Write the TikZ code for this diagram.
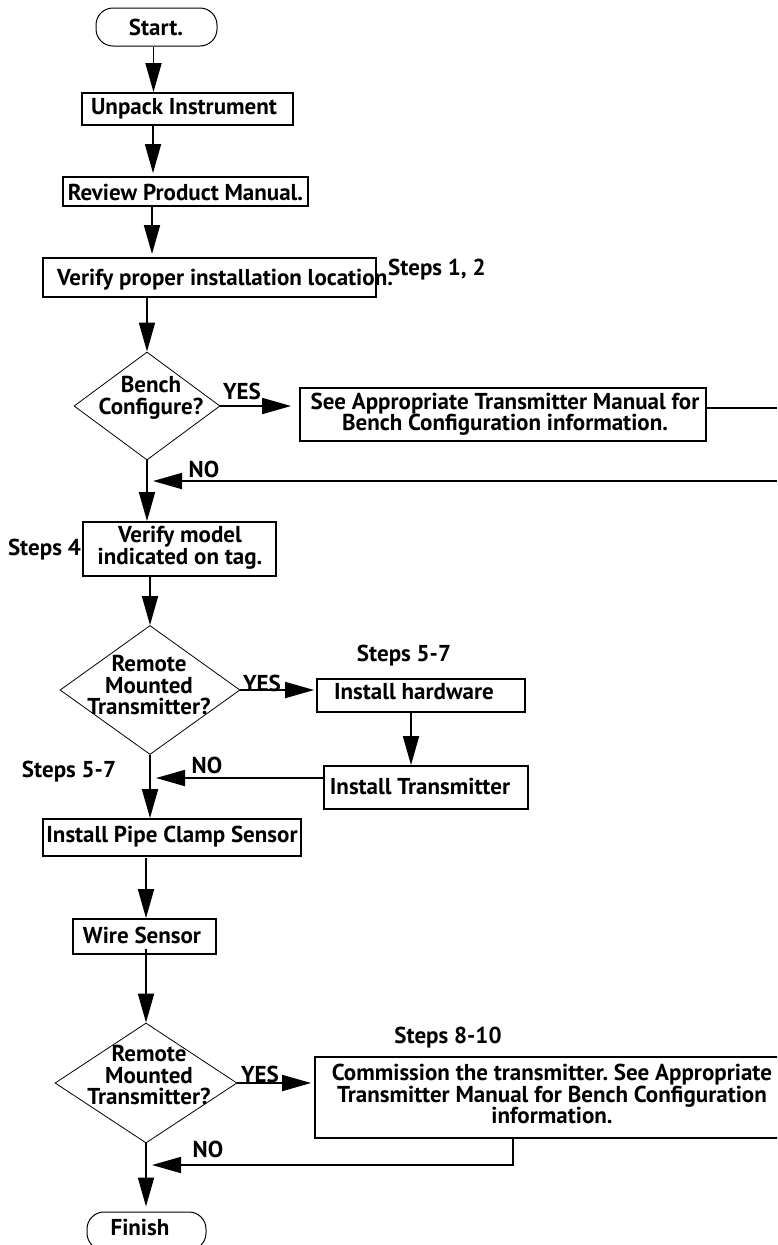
\documentclass[tikz,border=0pt]{standalone}
\usepackage{fontspec}
\setmainfont{PT Sans}
\usetikzlibrary{arrows.meta,shapes.geometric}
\frenchspacing
\tikzset{
  txt/.style={font=\fontsize{23}{21.5}\selectfont\bfseries, inner sep=0pt, align=center},
  box/.style={draw, line width=1.8pt, inner sep=0pt},
  term/.style={draw, line width=1pt, rounded corners=17pt, inner sep=0pt},
  dia/.style={draw, diamond, line width=0.8pt, inner sep=0pt},
  flow/.style={line width=1.8pt, -{Triangle[length=29pt,width=16pt]}},
  plain/.style={line width=1.8pt}
}
\begin{document}
\begin{tikzpicture}[x=1pt,y=-1pt]
\useasboundingbox (0,0) rectangle (777,1245);
\clip (0,0) rectangle (777,1245);

% terminals and boxes
\node[term, minimum width=121pt, minimum height=38pt] (start) at (156.5,27) {};
\node[txt] (startt) at (156,27) {Start.};
\node[box, minimum width=211pt, minimum height=32pt] (unpack) at (187.5,109) {};
\node[txt] (unpackt) at (184,109) {Unpack Instrument};
\node[box, minimum width=245pt, minimum height=29pt] (review) at (185.5,191.5) {};
\node[txt] (reviewt) at (185.5,192) {Review Product Manual.};
\node[box, minimum width=333pt, minimum height=39pt] (verify) at (209.5,277.5) {};
\node[txt, anchor=west] (verifyt) at (57,280) {Verify proper installation location.};
\node[txt, anchor=west] (steps12) at (388,270) {Steps 1, 2};

% decision 1
\node[dia, minimum width=146pt, minimum height=108pt] (d1) at (147,406) {};
\node[txt] (d1t) at (151,398) {Bench\\Configure?};
\node[txt] (yes1) at (242,391) {YES};
\node[box, minimum width=406pt, minimum height=53pt] (bench) at (503,414.5) {};
\node[txt] (bencht) at (505,414) {See Appropriate Transmitter Manual for\\Bench Configuration information.};
\coordinate (r1) at (777,408);
\coordinate (r2) at (777,481);
\node[txt] (no1) at (204,469) {NO};

\node[box, minimum width=193pt, minimum height=54pt] (model) at (179.5,549) {};
\node[txt] (modelt) at (180,548) {Verify model\\indicated on tag.};
\node[txt, anchor=east] (steps4) at (81,550) {Steps 4};

% decision 2
\node[dia, minimum width=180pt, minimum height=129pt] (d2) at (150,690) {};
\node[txt] (d2t) at (149,685) {Remote\\Mounted\\Transmitter?};
\node[txt] (yes2) at (262,683) {YES};
\node[txt] (steps57a) at (404,656) {Steps 5-7};
\node[box, minimum width=208pt, minimum height=33pt] (hw) at (421,695.5) {};
\node[txt] (hwt) at (414,692) {Install hardware};
\node[box, minimum width=204pt, minimum height=43pt] (tr) at (426,787.5) {};
\node[txt] (trt) at (420,786) {Install Transmitter};
\node[txt] (no2) at (207,765) {NO};
\node[txt] (steps57b) at (69,772) {Steps 5-7};

\node[box, minimum width=258pt, minimum height=37pt] (pipe) at (172,837.5) {};
\node[txt] (pipet) at (172,837) {Install Pipe Clamp Sensor};
\node[box, minimum width=143pt, minimum height=35pt] (wire) at (144.5,936.5) {};
\node[txt] (wiret) at (142,935) {Wire Sensor};

% decision 3
\node[dia, minimum width=182pt, minimum height=120pt] (d3) at (146,1083) {};
\node[txt] (d3t) at (149,1075) {Remote\\Mounted\\Transmitter?};
\node[txt] (yes3) at (260,1074) {YES};
\node[txt] (steps810) at (448,1038) {Steps 8-10};
\node[box, minimum width=475pt, minimum height=81pt] (comm) at (552.5,1097.5) {};
\node[txt] (commt) at (552,1094) {Commission the transmitter. See Appropriate\\Transmitter Manual for Bench Configuration\\information.};
\node[txt] (no3) at (208,1149) {NO};
\node[term, minimum width=119pt, minimum height=38pt] (finish) at (146.5,1231) {};
\node[txt] (finisht) at (140,1227) {Finish};

% connectors
\draw[flow] ([xshift=-3pt]start.south) -- ([xshift=-3pt]start.south |- unpack.north);
\draw[flow, shorten >=3pt] (unpack.south -| 153,0) -- (review.north -| 153,0);
\draw[flow, shorten >=3pt] (review.south -| 152,0) -- (verify.north -| 152,0);
\draw[flow] (verify.south -| d1.north) -- (d1.north);
\draw[flow, shorten >=8pt] (d1.east) -- (bench.west |- d1.east);
\draw[plain] (bench.east |- r1) -- (r1);
\draw[flow, shorten >=6pt] (r2) -- (r2 -| d1.south);
\draw[flow] (d1.south) -- (d1.south |- model.north);
\draw[flow] (model.south -| d2.north) -- (d2.north);
\draw[flow, shorten >=2pt] (d2.east) -- (hw.west |- d2.east);
\draw[flow] (hw.south -| 411,0) -- (tr.north -| 411,0);
\draw[flow, shorten >=6pt] (tr.west |- 0,778) -- (d2.south |- 0,778);
\draw[flow] (d2.south) -- (d2.south |- pipe.north);
\draw[flow] ([yshift=-1pt]pipe.south -| 146,0) -- (wire.north -| 146,0);
\draw[flow] ([yshift=6pt]wire.south -| d3.north) -- (d3.north);
\draw[flow, shorten >=3pt] (d3.east) -- (comm.west |- d3.east);
\draw[flow, shorten >=6pt] (comm.south -| 513,0) -- (513,1165) -- (d3.south |- 0,1165);
\draw[flow, shorten >=5pt] (d3.south) -- (d3.south |- finish.north);
\end{tikzpicture}
\end{document}
